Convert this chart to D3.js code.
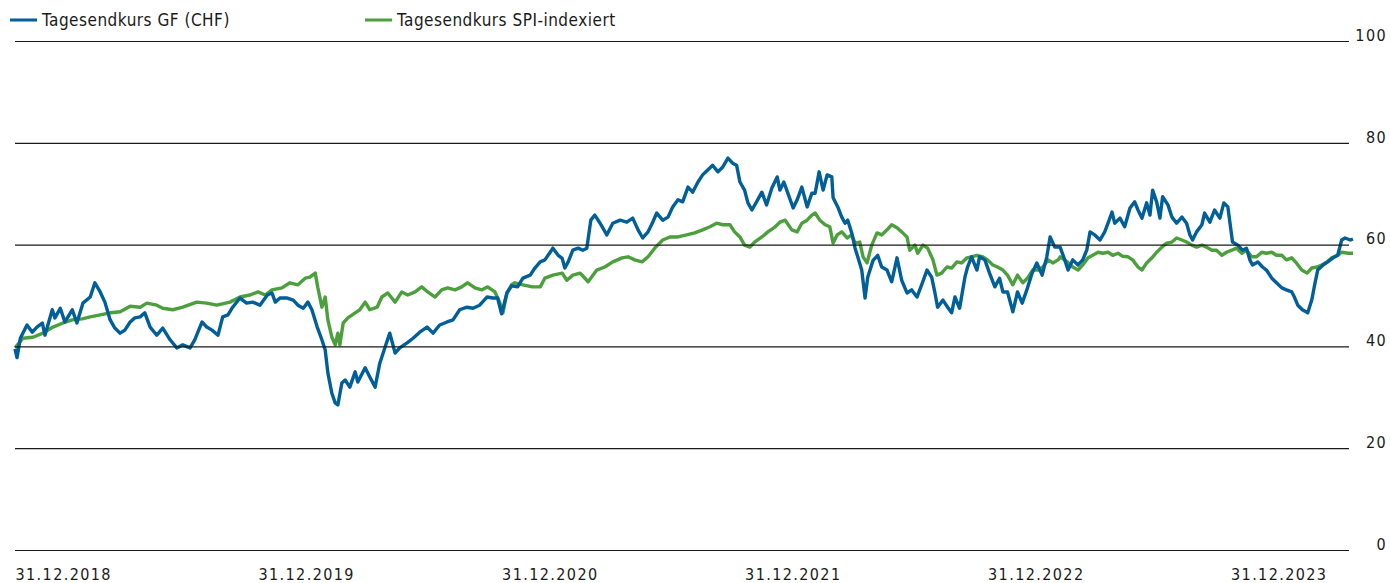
<!DOCTYPE html>
<html>
<head>
<meta charset="utf-8">
<script src="https://cdn.jsdelivr.net/npm/d3@7"></script>
<style>
  body { margin: 0; background: #fff; }
  text { font-family: "DejaVu Sans Condensed", "DejaVu Sans", sans-serif; }
</style>
</head>
<body>
<div id="myGraph"></div>
<script>
var width = 1390
var height = 583

// series names + colours
var seriesNames = ["Tagesendkurs GF (CHF)", "Tagesendkurs SPI-indexiert"]
var seriesColors = ["#005f99", "#4c9f3d"]

var tickLabels = ["31.12.2018", "31.12.2019", "31.12.2020", "31.12.2021", "31.12.2022", "31.12.2023"]
var yTicks = [0, 20, 40, 60, 80, 100]

// [days since 31.12.2018, value]
var gfPoints = [[0,39.5],[3,37.8],[8,41.6],[18,44.2],[26,42.8],[33,43.8],[41,44.6],[45,42.2],[56,47.2],[60,45.6],[68,47.5],[75,44.8],[86,47.2],[93,44.6],[102,48.5],[113,49.7],[120,52.5],[128,50.7],[135,48.7],[143,45.2],[150,43.6],[158,42.6],[165,43.2],[173,44.8],[180,45.6],[188,45.8],[195,46.6],[203,43.8],[213,42.2],[222,43.6],[233,41.3],[243,39.7],[252,40.3],[263,39.7],[270,41.3],[281,44.8],[288,43.8],[296,43.2],[305,42.2],[312,45.8],[320,46.2],[327,47.7],[338,49.5],[348,48.5],[357,48.7],[368,48.1],[379,50.1],[386,50.5],[391,48.7],[398,49.5],[409,49.5],[418,49.1],[425,48.1],[433,47.5],[440,48.7],[446,47.2],[454,43.8],[461,41.3],[466,39.3],[470,34.8],[476,30.8],[481,28.9],[485,28.5],[491,32.8],[496,33.4],[503,32.0],[511,35.0],[515,33.0],[526,35.8],[533,34.0],[541,32.0],[548,36.7],[556,39.9],[563,42.6],[571,38.7],[578,39.7],[589,40.7],[598,41.6],[608,42.8],[619,43.8],[628,42.6],[638,44.2],[649,44.8],[658,45.2],[668,47.2],[679,47.7],[688,47.5],[698,48.1],[709,49.7],[718,49.5],[725,49.5],[731,46.4],[739,50.5],[746,51.9],[755,51.7],[763,53.4],[774,54.0],[781,55.4],[789,56.6],[796,57.0],[804,58.5],[808,59.3],[816,57.9],[822,57.3],[826,55.4],[831,56.6],[838,58.9],[846,59.3],[853,58.9],[859,59.3],[865,64.8],[871,65.8],[879,64.2],[889,61.9],[898,64.2],[909,64.8],[919,64.4],[928,65.2],[936,62.9],[943,61.3],[951,62.5],[958,64.4],[964,66.2],[973,64.8],[981,65.4],[988,67.4],[996,68.8],[1003,68.4],[1011,71.3],[1018,70.3],[1026,72.3],[1033,73.7],[1041,74.7],[1048,75.6],[1056,74.3],[1063,75.2],[1071,77.0],[1078,76.0],[1084,75.6],[1089,72.3],[1096,70.7],[1101,68.2],[1107,66.8],[1114,68.4],[1122,70.3],[1129,67.8],[1137,71.1],[1145,73.3],[1149,70.7],[1155,72.3],[1161,70.1],[1169,67.2],[1175,68.8],[1182,71.3],[1190,67.4],[1197,70.1],[1202,70.1],[1208,74.3],[1214,70.7],[1220,73.7],[1227,73.3],[1229,69.2],[1236,67.4],[1242,65.4],[1247,64.2],[1251,64.8],[1257,62.3],[1262,59.3],[1266,57.6],[1272,55.0],[1277,49.5],[1281,53.6],[1289,56.9],[1296,57.9],[1302,55.6],[1310,55.0],[1317,52.7],[1325,57.4],[1332,53.0],[1340,50.5],[1347,51.1],[1355,49.7],[1362,52.1],[1370,55.0],[1377,53.6],[1382,50.5],[1386,47.7],[1394,49.1],[1401,47.7],[1407,46.6],[1412,49.7],[1419,47.5],[1427,53.6],[1431,55.6],[1437,57.6],[1445,55.0],[1449,57.6],[1457,57.0],[1464,54.4],[1472,51.7],[1479,53.4],[1484,50.7],[1491,50.7],[1499,46.8],[1506,50.7],[1513,48.5],[1520,51.1],[1528,54.4],[1535,56.4],[1543,54.0],[1550,57.6],[1555,61.5],[1562,59.5],[1570,59.5],[1577,57.0],[1582,55.0],[1589,57.0],[1597,56.0],[1604,57.0],[1610,58.9],[1615,62.5],[1622,61.9],[1630,60.9],[1637,62.5],[1642,64.2],[1648,66.4],[1652,64.2],[1660,65.2],[1667,63.5],[1675,67.2],[1682,68.4],[1687,66.8],[1693,65.2],[1700,68.2],[1705,65.8],[1709,70.7],[1715,68.4],[1720,65.2],[1724,69.4],[1732,67.8],[1738,65.4],[1745,64.2],[1753,65.4],[1760,64.2],[1765,61.9],[1769,60.9],[1775,62.5],[1783,63.9],[1787,66.2],[1795,64.4],[1802,66.8],[1810,65.2],[1816,68.2],[1822,67.4],[1828,61.5],[1829,60.5],[1837,59.9],[1844,58.9],[1850,59.3],[1855,57.0],[1859,56.0],[1867,56.6],[1874,55.6],[1880,55.0],[1888,53.4],[1895,52.5],[1903,51.5],[1910,51.1],[1918,50.7],[1922,49.7],[1927,48.1],[1934,47.2],[1942,46.6],[1948,49.1],[1953,52.5],[1957,55.0],[1965,56.0],[1972,56.6],[1980,57.4],[1987,57.9],[1993,60.9],[1998,61.3],[2006,60.9],[2010,61.1]]

var spiPoints = [[0,39.7],[12,41.6],[27,41.8],[42,42.6],[57,43.8],[72,44.6],[86,45.2],[101,45.4],[113,45.8],[128,46.2],[143,46.6],[158,46.8],[173,47.9],[188,47.7],[198,48.5],[213,48.1],[222,47.5],[237,47.2],[252,47.7],[273,48.7],[288,48.5],[303,48.1],[323,48.7],[338,49.7],[353,50.1],[365,50.7],[376,50.1],[386,51.1],[401,51.5],[413,52.5],[425,52.1],[436,53.4],[443,53.6],[451,54.4],[455,51.5],[461,47.7],[466,49.7],[470,45.2],[476,41.8],[481,40.3],[485,42.6],[488,40.3],[493,44.6],[500,45.6],[511,46.6],[518,47.2],[526,48.7],[533,47.2],[544,47.7],[551,49.7],[560,50.5],[571,48.7],[581,50.7],[590,50.1],[601,50.7],[611,51.7],[620,50.7],[631,49.7],[641,51.1],[650,51.5],[661,51.1],[671,51.7],[680,52.5],[691,51.5],[701,51.1],[710,51.7],[721,50.7],[728,48.7],[733,46.6],[739,50.5],[746,52.1],[751,52.5],[763,52.1],[777,51.7],[789,51.7],[796,53.4],[808,54.0],[822,54.4],[829,53.0],[838,54.0],[849,54.4],[861,52.7],[874,55.0],[886,55.6],[898,56.6],[912,57.4],[921,57.6],[931,57.0],[942,56.6],[951,57.6],[961,59.3],[973,60.9],[984,61.5],[996,61.5],[1009,61.9],[1021,62.3],[1033,62.9],[1044,63.5],[1054,64.2],[1063,63.9],[1074,63.9],[1081,62.5],[1089,61.5],[1096,59.9],[1104,59.5],[1111,60.5],[1122,61.5],[1131,62.5],[1142,63.5],[1149,64.4],[1157,64.8],[1167,62.9],[1175,62.5],[1182,64.2],[1190,64.8],[1197,65.8],[1202,66.2],[1209,64.8],[1217,63.9],[1224,63.5],[1229,60.3],[1235,61.9],[1242,62.5],[1250,61.3],[1257,61.9],[1262,60.3],[1269,60.5],[1274,57.6],[1280,56.4],[1287,59.9],[1295,62.3],[1302,61.9],[1310,62.9],[1317,63.9],[1325,63.3],[1332,62.5],[1340,61.5],[1344,58.9],[1352,59.9],[1356,58.3],[1364,59.9],[1371,59.3],[1379,57.0],[1385,54.0],[1392,54.4],[1400,55.6],[1407,55.4],[1415,56.6],[1422,56.4],[1430,57.4],[1437,57.6],[1445,57.9],[1454,57.6],[1461,57.0],[1469,56.0],[1476,55.6],[1484,55.0],[1491,54.0],[1499,52.1],[1506,54.0],[1514,52.5],[1521,53.4],[1529,55.0],[1537,55.0],[1544,55.6],[1552,57.0],[1559,56.4],[1567,57.0],[1570,57.6],[1581,56.6],[1589,55.6],[1597,55.0],[1604,56.0],[1612,57.4],[1619,57.9],[1627,58.5],[1634,58.3],[1642,58.5],[1649,57.9],[1657,58.3],[1664,57.7],[1672,57.6],[1679,57.0],[1687,55.6],[1693,55.0],[1700,56.4],[1708,57.4],[1715,58.5],[1723,59.5],[1730,60.3],[1738,60.5],[1745,61.3],[1753,60.9],[1760,60.5],[1768,59.9],[1775,59.5],[1783,59.9],[1790,59.5],[1798,58.9],[1805,58.9],[1813,57.9],[1820,58.5],[1828,58.9],[1835,59.3],[1843,58.3],[1850,58.9],[1858,57.6],[1865,57.6],[1873,58.5],[1880,58.3],[1888,58.5],[1895,57.9],[1903,57.9],[1910,57.0],[1918,57.4],[1925,56.4],[1933,55.0],[1941,54.4],[1948,55.4],[1956,55.6],[1963,56.0],[1971,56.6],[1978,57.4],[1987,57.9],[1993,58.5],[2003,58.3],[2010,58.3]]

var parseDate = d3.timeParse("%d.%m.%Y")
var startDate = parseDate(tickLabels[0])
var toDate = function(days) { return d3.timeDay.offset(startDate, days) }

var svg = d3.select("#myGraph")
  .append("svg")
    .attr("width", width)
    .attr("height", height)

var lastDay = d3.max(gfPoints, function(d) { return d[0] })
var x = d3.scaleTime()
    .domain([startDate, toDate(lastDay)])
    .range([15, 1353])
var y = d3.scaleLinear()
    .domain([0, 100])
    .range([550, 41])

var line = d3.line()
    .x(function(d) { return x(toDate(d[0])) })
    .y(function(d) { return y(d[1]) })

// lines: SPI first, GF on top
svg.append("path")
  .datum(spiPoints)
  .attr("d", line)
  .style("fill", "none")
  .style("stroke", seriesColors[1])
  .attr("stroke-width", 3.4)
  .attr("stroke-linejoin", "round")

svg.append("path")
  .datum(gfPoints)
  .attr("d", line)
  .style("fill", "none")
  .style("stroke", seriesColors[0])
  .attr("stroke-width", 3.4)
  .attr("stroke-linejoin", "round")

// y gridlines + labels on the right
var gridRight = 1349
var yAxis = svg.append("g")
  .attr("transform", "translate(" + gridRight + ",0)")
  .call(d3.axisRight(y).tickValues(yTicks).tickSize(-(gridRight - 15)).tickPadding(0))
yAxis.select(".domain").remove()
yAxis.selectAll(".tick line")
  .attr("stroke", "#1a1a1a")
  .attr("stroke-width", 1.2)
yAxis.selectAll(".tick text")
  .attr("x", 38)
  .attr("dy", "-0.05em")
  .style("text-anchor", "end")
  .style("font-size", "16px")
  .style("letter-spacing", "1.4px")
  .attr("fill", "#1a1a1a")

// x labels
var xAxis = svg.append("g")
  .attr("transform", "translate(0,562)")
  .call(d3.axisBottom(x)
    .tickValues(tickLabels.map(parseDate))
    .tickFormat(d3.timeFormat("%d.%m.%Y"))
    .tickSize(0)
    .tickPadding(0))
xAxis.select(".domain").remove()
xAxis.selectAll(".tick text")
  .style("text-anchor", "start")
  .style("font-size", "16px")
  .style("letter-spacing", "1.4px")
  .attr("dy", "1.1em")
  .attr("fill", "#1a1a1a")

// legend
var legendX = [10, 365]
var legend = svg.selectAll("legendItem")
  .data(seriesNames)
  .enter().append("g")
  .attr("transform", function(d, i) { return "translate(" + legendX[i] + ",20)" })
legend.append("line")
  .attr("x1", 0).attr("x2", 27)
  .attr("stroke", function(d, i) { return seriesColors[i] })
  .attr("stroke-width", 3)
legend.append("text")
  .attr("x", 32)
  .attr("dy", "0.37em")
  .style("font-size", "17px")
  .style("letter-spacing", "0.5px")
  .attr("fill", "#1a1a1a")
  .text(function(d) { return d })
</script>
</body>
</html>
